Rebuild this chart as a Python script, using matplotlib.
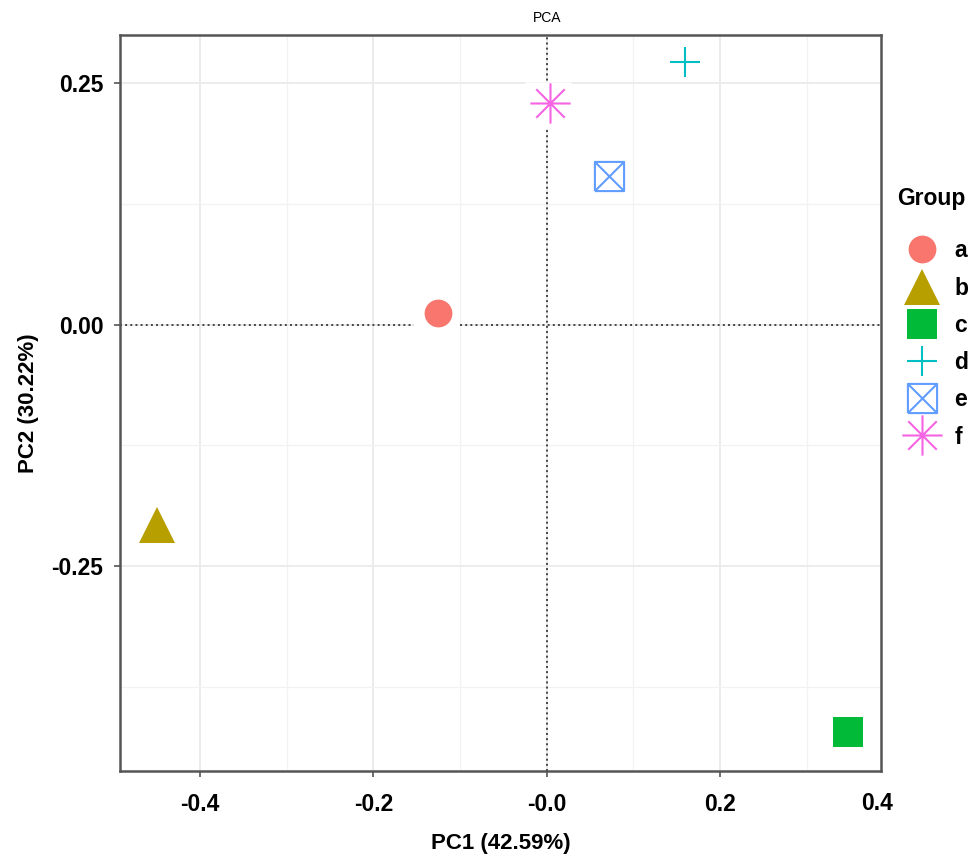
import numpy as np
import matplotlib
matplotlib.use("Agg")
import matplotlib.pyplot as plt
from matplotlib.path import Path
from matplotlib.lines import Line2D
from matplotlib.ticker import MultipleLocator

plt.rcParams['font.family'] = ['Liberation Sans', 'DejaVu Sans']

groups = ['a', 'b', 'c', 'd', 'e', 'f']
pc1 = [-0.125, -0.450, 0.348, 0.159, 0.072, 0.004]
pc2 = [0.012, -0.207, -0.422, 0.272, 0.154, 0.229]
colors = ['#F8766D', '#B79F00', '#00BA38', '#00BFC4', '#619CFF', '#F564E3']
boxed = [True, False, False, False, False, True]   # empty repel-label boxes that cut the lines
xlab = "PC1 (42.59%)"
ylab = "PC2 (30.22%)"
xticks = [-0.4, -0.2, 0.0, 0.2]
xticklabels = ['-0.4', '-0.2', '-0.0', '0.2']
yticks = [0.25, 0.0, -0.25]
yticklabels = ['0.25', '0.00', '-0.25']

# R-like shapes 7 (square cross) and 8 (asterisk)
box_x = Path([(-1, -1), (1, -1), (1, 1), (-1, 1), (-1, -1), (-1, -1), (1, 1), (-1, 1), (1, -1)],
             [Path.MOVETO, Path.LINETO, Path.LINETO, Path.LINETO, Path.LINETO,
              Path.MOVETO, Path.LINETO, Path.MOVETO, Path.LINETO])
ang = np.deg2rad([0, 45, 90, 135])
star_v, star_c = [], []
for t in ang:
    star_v += [(np.cos(t), np.sin(t)), (-np.cos(t), -np.sin(t))]
    star_c += [Path.MOVETO, Path.LINETO]
star = Path(star_v, star_c)

styles = [
    dict(marker='o', ms=20, mfc=colors[0], mec=colors[0], mew=0),
    dict(marker='^', ms=26, mfc=colors[1], mec=colors[1], mew=0),
    dict(marker='s', ms=21, mfc=colors[2], mec=colors[2], mew=0),
    dict(marker='+', ms=22, mfc='none', mec=colors[3], mew=1.5),
    dict(marker=box_x, ms=21, mfc='none', mec=colors[4], mew=1.5),
    dict(marker=star, ms=29, mfc='none', mec=colors[5], mew=1.5),
]

fig = plt.figure(figsize=(9.75, 8.61), dpi=100)
ax = fig.add_axes([0.1231, 0.1045, 0.7805, 0.8548])
ax.set_xlim(-0.4923, 0.3857)
ax.set_ylim(-0.4622, 0.2997)

ax.xaxis.set_minor_locator(MultipleLocator(0.1))
ax.yaxis.set_minor_locator(MultipleLocator(0.125))
ax.set_axisbelow(True)
ax.grid(which='major', color='#EBEBEB', linewidth=1.3)
ax.grid(which='minor', color='#F2F2F2', linewidth=0.9)

ax.axhline(0, color='#444444', linestyle=':', linewidth=1.4, zorder=1)
ax.axvline(0, color='#444444', linestyle=':', linewidth=1.4, zorder=1)

for x, y, b in zip(pc1, pc2, boxed):
    if b:
        ax.plot(x - 0.003, y - 0.002, marker='s', ms=33, mfc='white', mec='none', zorder=1.5)

handles = []
for g, x, y, st in zip(groups, pc1, pc2, styles):
    ax.plot(x, y, linestyle='none', zorder=3, **st)
    handles.append(Line2D([], [], linestyle='none', label=g, **st))

ax.set_xticks(xticks)
ax.set_xticklabels(xticklabels)
ax.set_yticks(yticks)
ax.set_yticklabels(yticklabels)
ax.tick_params(which='major', length=4, width=1.2, color='#555555', labelsize=16.5)
ax.tick_params(axis='x', pad=12)
ax.tick_params(axis='y', pad=8)
ax.tick_params(which='minor', length=0)
for lbl in ax.get_xticklabels() + ax.get_yticklabels():
    lbl.set_fontweight('bold')
fig.text(877 / 975, 1 - 803 / 861, '0.4', ha='center', va='center', fontsize=16.5, fontweight='bold')

for sp in ax.spines.values():
    sp.set_color('#555555')
    sp.set_linewidth(1.8)

ax.set_xlabel(xlab, fontsize=16, fontweight='bold', labelpad=12)
ax.set_ylabel(ylab, fontsize=16, fontweight='bold', labelpad=9)
fig.text(547 / 975, 1 - 18 / 861, 'PCA', ha='center', va='center', fontsize=10)

fig.text(897 / 975, 1 - 198 / 861, 'Group', ha='left', va='center', fontsize=16.5, fontweight='bold')
leg = fig.legend(handles=handles, loc='upper left',
                 bbox_to_anchor=(888 / 975, 1 - 228 / 861), frameon=False,
                 fontsize=16.5, labelspacing=0.62, handletextpad=0.4,
                 borderpad=0, handlelength=2.0)
for t in leg.get_texts():
    t.set_fontweight('bold')

fig.savefig('out.png', dpi=100)
